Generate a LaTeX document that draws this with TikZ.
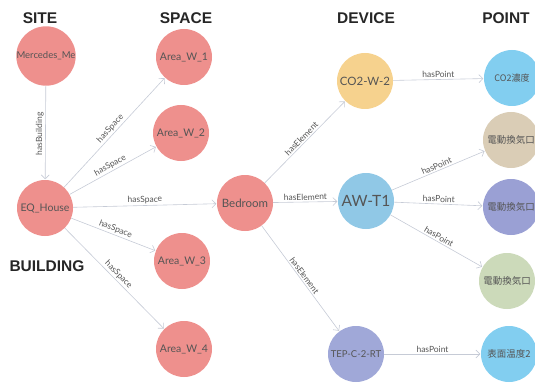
\documentclass[tikz,border=0pt]{standalone}
\usepackage{fontspec}
\setmainfont{Lato}
\newfontfamily\headfont{Liberation Sans}
\newfontfamily\cjk{Noto Sans CJK JP}
\usetikzlibrary{arrows.meta}

\definecolor{siteclr}{RGB}{238,144,141}
\definecolor{devorange}{RGB}{246,210,142}
\definecolor{devblue}{RGB}{144,200,230}
\definecolor{devpurple}{RGB}{160,168,216}
\definecolor{ptblue}{RGB}{130,206,240}
\definecolor{pttan}{RGB}{218,205,182}
\definecolor{ptpurple}{RGB}{154,160,212}
\definecolor{ptgreen}{RGB}{204,218,186}
\definecolor{edgeclr}{RGB}{198,203,214}
\definecolor{txtclr}{RGB}{85,85,85}

\tikzset{
  ent/.style={circle, minimum size=56pt, inner sep=0pt, fill=siteclr,
    text=txtclr, font=\fontsize{10.5}{10.5}\selectfont},
  heading/.style={font=\headfont\bfseries\fontsize{15.5}{15.5}\selectfont, text=black!85},
  rel/.style={draw=edgeclr, line width=0.6pt,
    -{Straight Barb[length=4pt,width=8pt,line width=0.6pt]}, shorten >=0.5pt},
  lbl/.style={font=\fontsize{8.5}{8.5}\selectfont, text=txtclr, sloped, above, inner sep=1.5pt, pos=0.5}
}

\begin{document}
\begin{tikzpicture}[x=1pt,y=-1pt]
\useasboundingbox (0,0) rectangle (535,385);

% column headings
\node[heading] (hsite) at (40,18) {SITE};
\node[heading] (hspace) at (186,18) {SPACE};
\node[heading] (hdev) at (366,18) {DEVICE};
\node[heading] (hpoint) at (506,18) {POINT};
\node[heading] (hbld) at (47,266) {BUILDING};

% site, building and spaces
\node[ent, font=\fontsize{9.5}{9.5}\selectfont] (site) at (46,56) {Mercedes\_Me};
\node[ent] (house) at (45,208) {EQ\_House};
\node[ent] (w1) at (184,57) {Area\_W\_1};
\node[ent] (w2) at (181,133) {Area\_W\_2};
\node[ent] (w3) at (182,261) {Area\_W\_3};
\node[ent] (w4) at (184,349) {Area\_W\_4};
\node[ent, font=\fontsize{11.5}{11.5}\selectfont] (bed) at (245,203) {Bedroom};

% devices
\node[ent, fill=devorange, font=\fontsize{11.5}{11.5}\selectfont] (co2dev) at (365,81) {CO2-W-2};
\node[ent, fill=devblue, font=\fontsize{15.5}{15.5}\selectfont] (awt) at (366,201) {AW-T1};
\node[ent, fill=devpurple, font=\fontsize{9.5}{9.5}\selectfont] (tep) at (356,354) {TEP-C-2-RT};

% points
\node[ent, fill=ptblue, font=\cjk\fontsize{9}{9}\selectfont] (co2pt) at (512,78) {CO2濃度};
\node[ent, fill=pttan, font=\cjk\fontsize{9.5}{9.5}\selectfont] (vent1) at (511,140) {電動換気口};
\node[ent, fill=ptpurple, font=\cjk\fontsize{9.5}{9.5}\selectfont] (vent2) at (511,207) {電動換気口};
\node[ent, fill=ptgreen, font=\cjk\fontsize{9.5}{9.5}\selectfont] (vent3) at (507,281) {電動換気口};
\node[ent, fill=ptblue, font=\cjk\fontsize{9.5}{9.5}\selectfont] (surf) at (509,354) {表面温度2};

% relations
\draw[rel] (site) -- node[lbl, sloped=false, rotate=90, left=1pt, anchor=south] {hasBuilding} (house);
\draw[rel] (house) -- node[lbl] {hasSpace} (w1);
\draw[rel] (house) -- node[lbl] {hasSpace} (w2);
\draw[rel] (house) -- node[lbl] {hasSpace} (bed);
\draw[rel] (house) -- node[lbl] {hasSpace} (w3);
\draw[rel] (house) -- node[lbl] {hasSpace} (w4);
\draw[rel] (bed) -- node[lbl] {hasElement} (co2dev);
\draw[rel] (bed) -- node[lbl] {hasElement} (awt);
\draw[rel] (bed) -- node[lbl] {hasElement} (tep);
\draw[rel] (co2dev) -- node[lbl] {hasPoint} (co2pt);
\draw[rel] (awt) -- node[lbl] {hasPoint} (vent1);
\draw[rel] (awt) -- node[lbl] {hasPoint} (vent2);
\draw[rel] (awt) -- node[lbl] {hasPoint} (vent3);
\draw[rel] (tep) -- node[lbl] {hasPoint} (surf);
\end{tikzpicture}
\end{document}
